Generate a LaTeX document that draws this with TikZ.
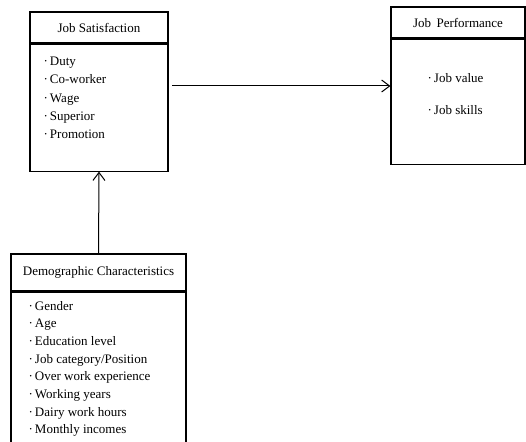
\documentclass[tikz,border=0pt]{standalone}
\usepackage{fontspec}
\setmainfont{Liberation Serif}
\usetikzlibrary{arrows.meta,positioning}

\begin{document}
\begin{tikzpicture}[
  x=1pt, y=-1pt,
  font=\fontsize{13}{15}\selectfont, line width=1pt,
  >={Straight Barb[length=8pt,width=12pt]},
  headbox/.style={rectangle, draw=black, line width=1.1pt, inner sep=0pt, minimum height=31pt},
  bodybox/.style={rectangle, draw=black, line width=1.1pt, inner sep=0pt},
  listitem/.style={anchor=base west, inner sep=0pt}
]
\useasboundingbox (0,0) rectangle (526,441);
\clip (0,0) rectangle (526,441);

% job satisfaction
\node[headbox, minimum width=138pt] (jshead) at (99,27.5) {Job Satisfaction};
\node[bodybox, minimum width=138pt, minimum height=127pt, below=0pt of jshead] (jsbody) {};
\foreach \t [count=\i] in {Duty, Co-worker, Wage, Superior, Promotion}
  \node[listitem] (js\i) at (43,{66+18*(\i-1)}) {·\,\t};

% job performance
\node[headbox, minimum width=134pt] (jphead) at (458,22.5) {Job\, Performance};
\node[bodybox, minimum width=134pt, minimum height=125pt, below=0pt of jphead] (jpbody) {};
\node[listitem] (jp1) at (427,82) {·\,Job value};
\node[listitem] (jp2) at (427,114) {·\,Job skills};

% demographic characteristics
\node[headbox, minimum width=175pt, minimum height=37pt] (dchead) at (98.5,272.5) {Demographic Characteristics};
\node[bodybox, minimum width=175pt, minimum height=200pt, below=0pt of dchead] (dcbody) {};
\foreach \t [count=\i] in {Gender, Age, Education level, Job category/Position,
    Over work experience, Working years, Dairy work hours, Monthly incomes}
  \node[listitem] (dc\i) at (28,{310+17.7*(\i-1)}) {·\,\t};

% arrows
\coordinate (jsout) at (172,86);
\draw[->] (jsout) -- (jsout -| jpbody.west);
\draw[->] (dchead.north) -- (jsbody.south);
\end{tikzpicture}
\end{document}
